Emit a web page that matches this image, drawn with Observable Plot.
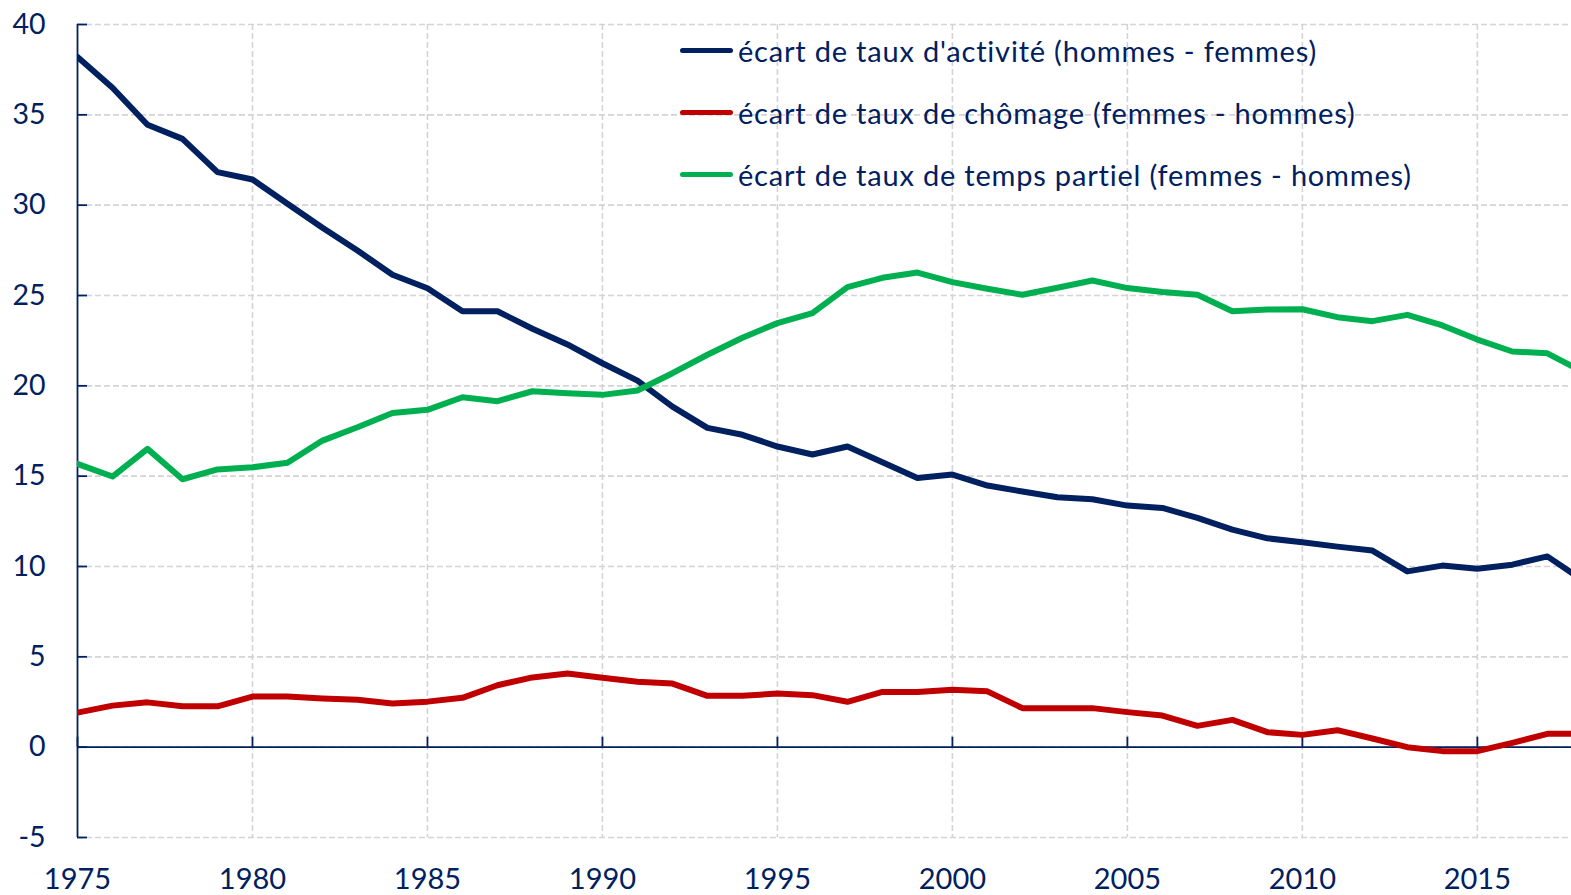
<!DOCTYPE html>
<html><head><meta charset="utf-8">
<script src="https://cdn.jsdelivr.net/npm/d3@7"></script>
<script src="https://cdn.jsdelivr.net/npm/@observablehq/plot@0.6"></script>
<style>
body{margin:0;overflow:hidden;background:#fff;}
#wrap{position:relative;width:1571px;height:895px;}
#legend{position:absolute;left:680px;top:0;font-family:Lato,sans-serif;font-size:29px;letter-spacing:0.8px;color:#002060;}
.row{position:absolute;left:0;height:40px;display:flex;align-items:center;white-space:nowrap;}
.sw{width:53px;height:5px;border-radius:3px;margin-right:5px;flex:none;}
</style></head><body><div id="wrap"></div>
<script>
const years = [1975,1976,1977,1978,1979,1980,1981,1982,1983,1984,1985,1986,1987,1988,1989,1990,1991,1992,1993,1994,1995,1996,1997,1998,1999,2000,2001,2002,2003,2004,2005,2006,2007,2008,2009,2010,2011,2012,2013,2014,2015,2016,2017,2018];
const activite = [38.2,36.5,34.45,33.67,31.83,31.42,30.08,28.75,27.49,26.15,25.4,24.13,24.13,23.16,22.29,21.25,20.29,18.85,17.67,17.29,16.64,16.2,16.64,15.77,14.9,15.09,14.48,14.15,13.83,13.72,13.37,13.24,12.69,12.04,11.56,11.34,11.1,10.88,9.73,10.05,9.87,10.1,10.56,9.25];
const chomage = [1.91,2.3,2.48,2.26,2.26,2.8,2.8,2.7,2.62,2.42,2.52,2.73,3.43,3.86,4.08,3.84,3.62,3.52,2.84,2.84,2.97,2.88,2.51,3.06,3.06,3.18,3.09,2.16,2.16,2.16,1.94,1.75,1.18,1.51,0.83,0.68,0.94,0.48,0.0,-0.22,-0.22,0.24,0.74,0.74];
const partiel = [15.68,14.98,16.51,14.83,15.37,15.49,15.74,16.97,17.71,18.5,18.67,19.37,19.15,19.7,19.59,19.5,19.74,20.7,21.72,22.66,23.47,24.02,25.46,25.98,26.27,25.74,25.37,25.04,25.43,25.83,25.41,25.19,25.04,24.13,24.22,24.24,23.8,23.58,23.93,23.34,22.56,21.9,21.8,20.8];
const seriesLabels = ["écart de taux d'activité (hommes - femmes)","écart de taux de chômage (femmes - hommes)","écart de taux de temps partiel (femmes - hommes)"];
const seriesColors = ["#002060","#C00000","#00B050"];
const yTicks = [-5,0,5,10,15,20,25,30,35,40];
const xTicks = [1975,1980,1985,1990,1995,2000,2005,2010,2015];
const xGrid = [1980,1985,1990,1995,2000,2005,2010,2015];

const navy = "#002060";
const W = 1571, H = 895, mL = 77, mR = 0, mT = 24, mB = 58;
const toRows = vals => years.map((year, i) => ({year, value: vals[i]}));
const lineOpts = c => ({x: "year", y: "value", stroke: c, strokeWidth: 6, strokeLinejoin: "round", clip: true});
const gridStyle = {stroke: "#d4d4d4", strokeOpacity: 1, strokeWidth: 1.6, strokeDasharray: "6,3"};

const chart = Plot.plot({
  width: W, height: H, marginTop: mT, marginBottom: mB, marginLeft: mL, marginRight: mR,
  x: {domain: [1975, 2017.69]},
  y: {domain: [-5, 40]},
  style: {fontFamily: "Lato, sans-serif", color: navy, background: "white"},
  marks: [
    Plot.gridY(yTicks, gridStyle),
    Plot.gridX(xGrid, gridStyle),
    Plot.ruleY([0], {stroke: navy, strokeWidth: 1.8}),
    Plot.ruleX([1975], {stroke: navy, strokeWidth: 1.8}),
    Plot.ruleY(yTicks, {stroke: navy, strokeWidth: 1.8, insetRight: (W - mL - mR) - 10}),
    Plot.ruleX(xTicks, {y1: 40, y2: 0, stroke: navy, strokeWidth: 1.8, insetTop: (H - mT - mB) * 40 / 45 - 10}),
    Plot.axisY(yTicks, {tickSize: 0, tickPadding: 32, fontSize: 28.5, label: null, fill: navy, tickFormat: d => String(d)}),
    Plot.axisX(xTicks, {tickSize: 0, tickPadding: 31, fontSize: 29, label: null, fill: navy, tickFormat: d => String(d)}),
    Plot.line(toRows(activite), lineOpts(seriesColors[0])),
    Plot.line(toRows(chomage), lineOpts(seriesColors[1])),
    Plot.line(toRows(partiel), lineOpts(seriesColors[2]))
  ]
});
const wrap = document.getElementById("wrap");
wrap.appendChild(chart);

const legend = document.createElement("div");
legend.id = "legend";
const rowCenters = [50, 112, 174];
seriesLabels.forEach((lab, i) => {
  const row = document.createElement("div");
  row.className = "row";
  row.style.top = (rowCenters[i] - 20) + "px";
  const sw = document.createElement("div");
  sw.className = "sw";
  sw.style.background = seriesColors[i];
  const t = document.createElement("span");
  t.textContent = lab;
  row.appendChild(sw); row.appendChild(t);
  legend.appendChild(row);
});
wrap.appendChild(legend);
</script></body></html>
